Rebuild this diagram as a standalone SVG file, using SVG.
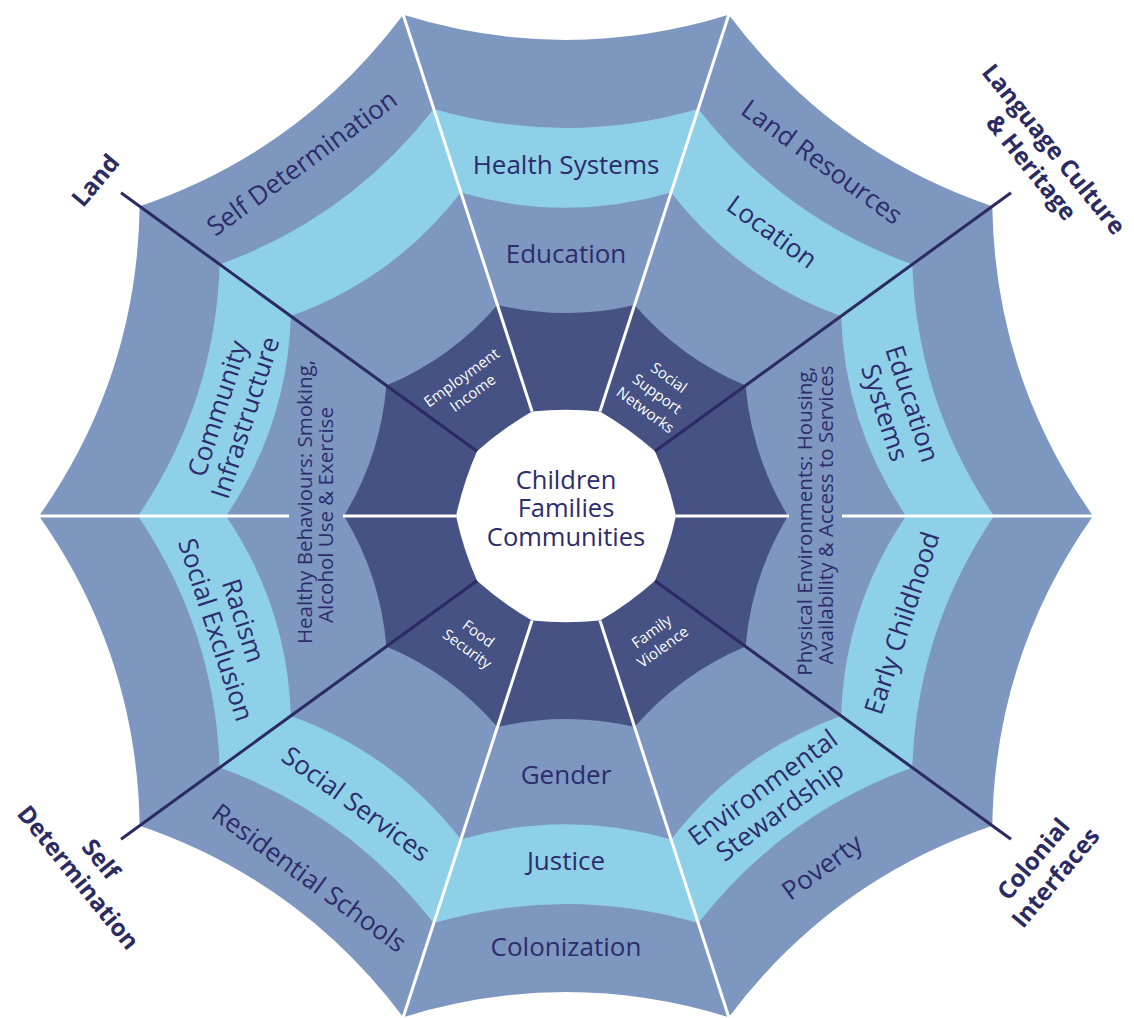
<svg xmlns="http://www.w3.org/2000/svg" width="1134" height="1018" viewBox="0 0 1134 1018">
<style>
.mid{fill:#7e97c1}
.light{fill:#8dd0e8}
.navy{fill:#465283}
.core{fill:#ffffff}
.t{font-family:"Open Sans","Noto Sans",sans-serif;fill:#2d2c6b;font-size:26px;text-anchor:middle}
.c{font-size:25.5px}
.s{font-size:20.5px}
.w{fill:#ffffff;font-size:15px}
.b{font-family:"Open Sans","Noto Sans",sans-serif;font-weight:bold;font-size:24px;fill:#2b2a63;text-anchor:middle}
.sw{stroke:#ffffff;stroke-width:3;fill:none}
.sd{stroke:#2b2a63;stroke-width:3;fill:none}
</style>
<rect width="1134" height="1018" fill="#ffffff"/>
<g id="web">
<path id="ring-outer" class="mid" d="M1093,516 Q994.9,655.4 992.3,825.8 Q831.1,880.9 728.8,1017.2 Q566,967 403.2,1017.2 Q300.9,880.9 139.7,825.8 Q137.1,655.4 39,516 Q137.1,376.6 139.7,206.2 Q300.9,151.1 403.2,14.8 Q566,65 728.8,14.8 Q831.1,151.1 992.3,206.2 Q994.9,376.6 1093,516 Z"/>
<path id="ring-light" class="light" d="M994,516 Q917,630 912.3,767.6 Q782.9,814.5 698.3,923.1 Q566,885 433.7,923.1 Q349.1,814.5 219.7,767.6 Q215,630 138,516 Q215,402 219.7,264.4 Q349.1,217.5 433.7,108.9 Q566,147 698.3,108.9 Q782.9,217.5 912.3,264.4 Q917,402 994,516 Z"/>
<path id="ring-mid" class="mid" d="M906,516 Q844.7,606.5 841.1,715.9 Q738.2,753 671.1,839.4 Q566,809 460.9,839.4 Q393.8,753 290.9,715.9 Q287.3,606.5 226,516 Q287.3,425.5 290.9,316.1 Q393.8,279 460.9,192.6 Q566,223 671.1,192.6 Q738.2,279 841.1,316.1 Q844.7,425.5 906,516 Z"/>
<path id="ring-navy" class="navy" d="M788,516 Q751.5,576.3 745.6,646.5 Q680.6,673.8 634.6,727.1 Q566,711 497.4,727.1 Q451.4,673.8 386.4,646.5 Q380.5,576.3 344,516 Q380.5,455.7 386.4,385.5 Q451.4,358.2 497.4,304.9 Q566,321 634.6,304.9 Q680.6,358.2 745.6,385.5 Q751.5,455.7 788,516 Z"/>
<path id="core" class="core" d="M676,516 Q668.7,549.4 655,580.7 Q629.5,603.4 600,620.6 Q566,624 532,620.6 Q502.5,603.4 477,580.7 Q463.3,549.4 456,516 Q463.3,482.6 477,451.3 Q502.5,428.6 532,411.4 Q566,408 600,411.4 Q629.5,428.6 655,451.3 Q668.7,482.6 676,516 Z"/>
</g>
<g id="connectors">
<line class="sw" x1="532" y1="411.4" x2="403.2" y2="14.8"/>
<line class="sw" x1="600" y1="411.4" x2="728.8" y2="14.8"/>
<line class="sw" x1="600" y1="620.6" x2="728.8" y2="1017.2"/>
<line class="sw" x1="532" y1="620.6" x2="403.2" y2="1017.2"/>
<line class="sw" x1="456" y1="516" x2="343" y2="516"/>
<line class="sw" x1="289" y1="516" x2="39" y2="516"/>
<line class="sw" x1="676" y1="516" x2="789" y2="516"/>
<line class="sw" x1="842" y1="516" x2="1093" y2="516"/>
<line class="sd" x1="477" y1="451.3" x2="121" y2="192.7"/>
<line class="sd" x1="655" y1="451.3" x2="1011" y2="192.7"/>
<line class="sd" x1="655" y1="580.7" x2="1011" y2="839.3"/>
<line class="sd" x1="477" y1="580.7" x2="121" y2="839.3"/>
</g>
<g id="center"><text class="t c"><tspan x="566" y="489">Children</tspan><tspan x="566" y="517">Families</tspan><tspan x="566" y="546">Communities</tspan></text></g>
<g id="employment-income" transform="translate(467,385) rotate(-36)"><text class="t w"><tspan x="0" y="-4">Employment</tspan><tspan x="0" y="15">Income</tspan></text></g>
<g id="social-support" transform="translate(657,394) rotate(36)"><text class="t w"><tspan x="0" y="-15">Social</tspan><tspan x="0" y="5">Support</tspan><tspan x="0" y="25">Networks</tspan></text></g>
<g id="family-violence" transform="translate(657,639) rotate(-36)"><text class="t w"><tspan x="0" y="-4">Family</tspan><tspan x="0" y="15">Violence</tspan></text></g>
<g id="food-security" transform="translate(473,641) rotate(36)"><text class="t w"><tspan x="0" y="-4">Food</tspan><tspan x="0" y="15">Security</tspan></text></g>
<g id="education"><text class="t" x="566" y="263">Education</text></g>
<g id="gender"><text class="t" x="566" y="784">Gender</text></g>
<g id="healthy-behaviours"><text class="t s" transform="translate(312,502) rotate(-90)">Healthy Behaviours: Smoking,</text><text class="t s" transform="translate(333,515) rotate(-90)">Alcohol Use &amp; Exercise</text></g>
<g id="physical-environments"><text class="t s" transform="translate(812,521) rotate(-90)">Physical Environments: Housing,</text><text class="t s" transform="translate(833,515) rotate(-90)">Availability &amp; Access to Services</text></g>
<g id="health-systems"><text class="t" x="566" y="174">Health Systems</text></g>
<g id="justice"><text class="t" x="566" y="870">Justice</text></g>
<g id="location" transform="translate(772,232) rotate(36)"><text class="t" y="9">Location</text></g>
<g id="education-systems" transform="translate(899,408) rotate(72)"><text class="t"><tspan x="0" y="-5">Education</tspan><tspan x="0" y="24">Systems</tspan></text></g>
<g id="early-childhood" transform="translate(902,623) rotate(-72)"><text class="t" y="9">Early Childhood</text></g>
<g id="environmental-stewardship" transform="translate(771,799) rotate(-36)"><text class="t"><tspan x="0" y="-5">Environmental</tspan><tspan x="0" y="24">Stewardship</tspan></text></g>
<g id="social-services" transform="translate(356,804) rotate(36)"><text class="t" y="9">Social Services</text></g>
<g id="racism" transform="translate(230,625) rotate(72)"><text class="t"><tspan x="0" y="-5">Racism</tspan><tspan x="0" y="24">Social Exclusion</tspan></text></g>
<g id="community-infrastructure" transform="translate(231,413) rotate(-72)"><text class="t"><tspan x="0" y="-5">Community</tspan><tspan x="0" y="24">Infrastructure</tspan></text></g>
<g id="self-determination" transform="translate(302,163) rotate(-36)"><text class="t" y="9">Self Determination</text></g>
<g id="land-resources" transform="translate(822,162) rotate(36)"><text class="t" y="9">Land Resources</text></g>
<g id="poverty" transform="translate(822,867) rotate(-36)"><text class="t" y="9">Poverty</text></g>
<g id="colonization"><text class="t" x="566" y="956">Colonization</text></g>
<g id="residential-schools" transform="translate(309,878) rotate(36)"><text class="t" y="9">Residential Schools</text></g>
<g id="label-land" transform="translate(95,180) rotate(-50)"><text class="b" y="9">Land</text></g>
<g id="label-language" transform="translate(1043,158) rotate(51)"><text class="b"><tspan x="0" y="-5.6">Language Culture</tspan><tspan x="0" y="23.4">&amp; Heritage</tspan></text></g>
<g id="label-self" transform="translate(90,868) rotate(51)"><text class="b"><tspan x="0" y="-5.6">Self</tspan><tspan x="0" y="23.4">Determination</tspan></text></g>
<g id="label-colonial" transform="translate(1044,868) rotate(-50)"><text class="b"><tspan x="0" y="-5.6">Colonial</tspan><tspan x="0" y="23.4">Interfaces</tspan></text></g>
</svg>
